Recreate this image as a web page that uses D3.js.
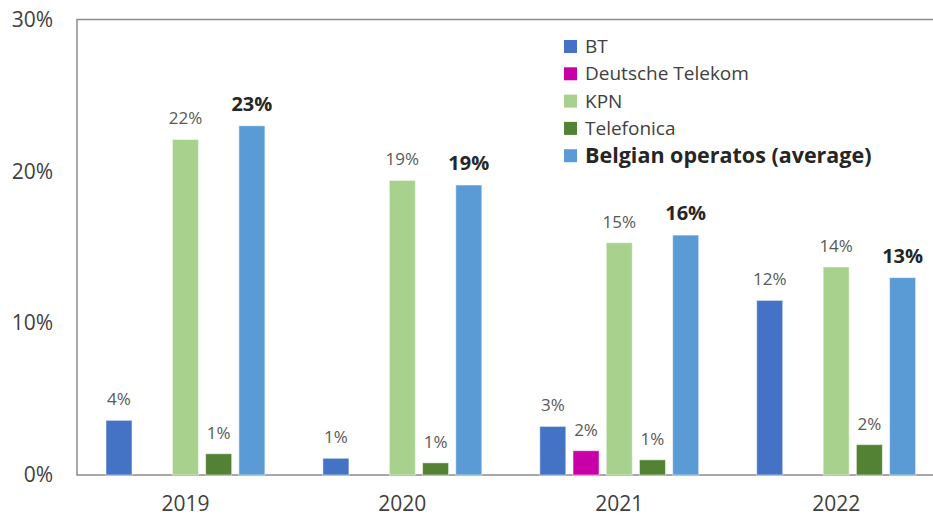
<!DOCTYPE html>
<html>
<head>
<meta charset="utf-8">
<script src="https://cdn.jsdelivr.net/npm/d3@7"></script>
<style>
  body { margin: 0; background: #fff; }
  svg { display: block; font-family: "Open Sans", sans-serif; }
</style>
</head>
<body>
<div id="chart"></div>
<script>
const years = ["2019", "2020", "2021", "2022"];
const series = ["BT", "Deutsche Telekom", "KPN", "Telefonica", "Belgian operatos (average)"];
const colors = ["#4472c4", "#c800a8", "#a9d18e", "#548235", "#5b9bd5"];
// values in %, null = no bar
const btValues = [3.6, 1.1, 3.2, 11.5];
const dtValues = [null, null, 1.6, null];
const kpnValues = [22.1, 19.4, 15.3, 13.7];
const telefonicaValues = [1.4, 0.8, 1.0, 2.0];
const belgianValues = [23.0, 19.1, 15.8, 13.0];
const labelValues = [
    ["4%", null, "22%", "1%", "23%"],
    ["1%", null, "19%", "1%", "19%"],
    ["3%", "2%", "15%", "1%", "16%"],
    ["12%", null, "14%", "2%", "13%"]
];
const yTicks = [0, 10, 20, 30];

const width = 933, height = 523;
const margin = {top: 19.5, left: 77, bottom: 48};
const baseY = height - margin.bottom;

const allValues = [btValues, dtValues, kpnValues, telefonicaValues, belgianValues];
const data = [];
years.forEach((yr, i) => {
    series.forEach((s, j) => {
        data.push({year: yr, series: s, idx: j, value: allValues[j][i], label: labelValues[i][j]});
    });
});

const svg = d3.select("#chart").append("svg")
    .attr("width", width)
    .attr("height", height);

const x0 = d3.scaleBand()
    .domain(years)
    .range([margin.left, margin.left + 4 * 216.9])
    .padding(0);

const x1 = d3.scaleBand()
    .domain(series)
    .range([29, 187.9])
    .paddingInner(0.217)
    .paddingOuter(0);

const y = d3.scaleLinear()
    .domain([0, 30])
    .range([baseY, margin.top]);

// frame
svg.append("path")
    .attr("d", `M${width + 5},${margin.top}H${margin.left}V${baseY}H${width + 5}`)
    .attr("fill", "none")
    .attr("stroke", "#8c8c8c")
    .attr("stroke-width", 1.5);

const yAxis = d3.axisLeft(y)
    .tickValues(yTicks)
    .tickSize(0)
    .tickPadding(24)
    .tickFormat(d => d + "%");

svg.append("g")
    .attr("class", "axis")
    .attr("transform", `translate(${margin.left}, 0)`)
    .call(yAxis);

const xAxis = d3.axisBottom(x0)
    .tickSize(0)
    .tickPadding(21);

svg.append("g")
    .attr("class", "axis")
    .attr("transform", `translate(0, ${baseY})`)
    .call(xAxis);

d3.selectAll(".axis > path").style("display", "none");
d3.selectAll(".axis text")
    .style("font-size", "21px")
    .style("font-family", "'Open Sans', sans-serif")
    .attr("fill", "#404040");

const bars = data.filter(d => d.value !== null);

svg.append("g").selectAll("rect")
    .data(bars)
    .join("rect")
    .attr("x", d => x0(d.year) + x1(d.series))
    .attr("y", d => y(d.value))
    .attr("width", x1.bandwidth())
    .attr("height", d => baseY - y(d.value))
    .attr("fill", d => colors[d.idx])
    .attr("stroke", "#ffffff")
    .attr("stroke-opacity", 0.5)
    .attr("stroke-width", 1);

svg.append("g").selectAll("text")
    .data(bars.filter(d => d.label))
    .join("text")
    .attr("x", d => x0(d.year) + x1(d.series) + x1.bandwidth() / 2)
    .attr("y", d => y(d.value) - 15)
    .attr("text-anchor", "middle")
    .style("font-size", d => d.idx === 4 ? "20px" : "17px")
    .style("font-weight", d => d.idx === 4 ? "bold" : "normal")
    .attr("fill", d => d.idx === 4 ? "#262626" : "#595959")
    .text(d => d.label);

// legend
const legend = svg.append("g")
    .attr("transform", "translate(564, 46.5)");

const items = legend.selectAll("g")
    .data(series)
    .join("g")
    .attr("transform", (d, i) => `translate(0, ${i * 27.3})`);

items.append("rect")
    .attr("x", 0)
    .attr("y", -6.5)
    .attr("width", 13)
    .attr("height", 13)
    .attr("fill", (d, i) => colors[i]);

items.append("text")
    .attr("x", 21)
    .attr("dy", "0.35em")
    .style("font-size", (d, i) => i === 4 ? "21.5px" : "19px")
    .style("font-weight", (d, i) => i === 4 ? "bold" : "normal")
    .attr("fill", (d, i) => i === 4 ? "#262626" : "#404040")
    .text(d => d);
</script>
</body>
</html>
